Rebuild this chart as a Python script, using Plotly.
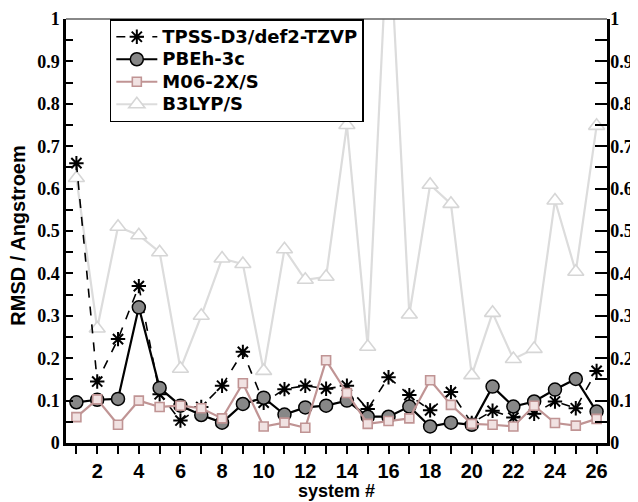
import plotly.graph_objects as go

systems = list(range(1, 27))

tpss = [0.66, 0.145, 0.245, 0.37, 0.115, 0.053, 0.085, 0.135, 0.215, 0.095,
        0.127, 0.135, 0.128, 0.135, 0.08, 0.155, 0.113, 0.077, 0.12, 0.047,
        0.076, 0.06, 0.069, 0.098, 0.082, 0.17]
pbeh = [0.096, 0.102, 0.104, 0.32, 0.13, 0.088, 0.066, 0.048, 0.092, 0.107,
        0.067, 0.084, 0.088, 0.1, 0.062, 0.062, 0.086, 0.039, 0.048, 0.043,
        0.133, 0.086, 0.098, 0.126, 0.151, 0.074]
m06 = [0.061, 0.103, 0.043, 0.1, 0.085, 0.088, 0.082, 0.058, 0.141, 0.039,
       0.048, 0.036, 0.195, 0.118, 0.045, 0.052, 0.058, 0.148, 0.09, 0.045,
       0.043, 0.039, 0.088, 0.047, 0.041, 0.057]
b3lyp = [0.625, 0.27, 0.51, 0.49, 0.45, 0.175, 0.30, 0.435, 0.422, 0.17,
         0.457, 0.385, 0.392, 0.75, 0.227, 1.25, 0.303, 0.609, 0.564, 0.16,
         0.307, 0.198, 0.222, 0.572, 0.404, 0.748]

names = ["TPSS-D3/def2-TZVP", "PBEh-3c", "M06-2X/S", "B3LYP/S"]

SANS = "Liberation Sans, Arial, sans-serif"
LEG = "DejaVu Sans, Liberation Sans, sans-serif"
SERIF = "Liberation Serif, Times New Roman, serif"


def lg(name):
    return '<span style="font-size:18px">%s</span>' % name


fig = go.Figure()

# B3LYP drawn first (background) on the left axis
fig.add_trace(go.Scatter(
    x=systems, y=b3lyp, name=lg(names[3]), mode="lines+markers", legendrank=4,
    yaxis="y",
    line=dict(color="#dcdcdc", width=2.2),
    marker=dict(symbol="triangle-up", size=14, color="white",
                line=dict(color="#d6d6d6", width=1.6)),
))
fig.add_trace(go.Scatter(
    x=systems, y=tpss, name=lg(names[0]), mode="lines+markers", legendrank=1,
    yaxis="y2",
    line=dict(color="black", width=1.6, dash="dash"),
    marker=dict(symbol="asterisk-open", size=12,
                line=dict(color="black", width=2)),
))
fig.add_trace(go.Scatter(
    x=systems, y=pbeh, name=lg(names[1]), mode="lines+markers", legendrank=2,
    yaxis="y2",
    line=dict(color="black", width=2.2),
    marker=dict(symbol="circle", size=13, color="#878787",
                line=dict(color="black", width=1.5)),
))
fig.add_trace(go.Scatter(
    x=systems, y=m06, name=lg(names[2]), mode="lines+markers", legendrank=3,
    yaxis="y2",
    line=dict(color="#c09494", width=2.2),
    marker=dict(symbol="square", size=9, color="#f1e2e2",
                line=dict(color="#c09494", width=1.6)),
))

yfont = dict(family=SERIF, size=18, color="black", weight="bold")

# the page body adds an 8px offset, so the figure is 8px smaller
fig.update_layout(
    width=630, height=494,
    margin=dict(l=58, r=31, t=11, b=59, autoexpand=False),
    plot_bgcolor="white", paper_bgcolor="white",
    showlegend=True,
    legend=dict(
        x=0.081, y=1, xanchor="left", yanchor="top",
        bgcolor="white", bordercolor="black", borderwidth=1.5,
        font=dict(family=LEG, size=15, color="black", weight="bold"),
        tracegroupgap=0, itemwidth=41,
    ),
    xaxis=dict(
        range=[0.5, 26.5], tick0=0, dtick=2, automargin=False,
        ticks="outside", ticklen=8, tickwidth=1.5, tickcolor="black",
        minor=dict(dtick=1, ticks="outside", ticklen=8, tickwidth=1.5, tickcolor="black"),
        showline=True, linecolor="black", linewidth=2.5,
        showgrid=False, zeroline=False,
        tickfont=dict(family=SANS, size=20, color="black", weight="bold"),
    ),
    yaxis=dict(
        range=[0, 1], dtick=0.1, side="left", automargin=False,
        ticks="inside", ticklen=7, tickwidth=1.5, tickcolor="black",
        minor=dict(dtick=0.05, ticks="inside", ticklen=7, tickwidth=1.5, tickcolor="black"),
        showline=True, linecolor="black", linewidth=2.5,
        showgrid=False, zeroline=False,
        tickfont=yfont,
    ),
    yaxis2=dict(
        range=[0, 1], dtick=0.1, side="right", overlaying="y", anchor="x",
        automargin=False, ticklabelstandoff=-3,
        ticks="inside", ticklen=12, tickwidth=1.5, tickcolor="black",
        minor=dict(dtick=0.05, ticks="inside", ticklen=12, tickwidth=1.5, tickcolor="black"),
        showline=True, linecolor="black", linewidth=2.5,
        showgrid=False, zeroline=False,
        tickfont=yfont,
    ),
    shapes=[dict(type="line", xref="paper", yref="paper", x0=0, x1=1, y0=1, y1=1,
                 line=dict(color="#606060", width=1.5))],
    annotations=[
        dict(text="RMSD / Angstroem", xref="paper", yref="paper",
             x=-0.088, y=0.49, xanchor="center", yanchor="middle", textangle=-90,
             showarrow=False,
             font=dict(family=SANS, size=20, color="black", weight="bold")),
        dict(text="system #", xref="paper", yref="paper",
             x=0.5, y=-0.1132, xanchor="center", yanchor="middle",
             showarrow=False,
             font=dict(family=SANS, size=18, color="black", weight="bold")),
    ],
)

fig.write_html("out.html")
